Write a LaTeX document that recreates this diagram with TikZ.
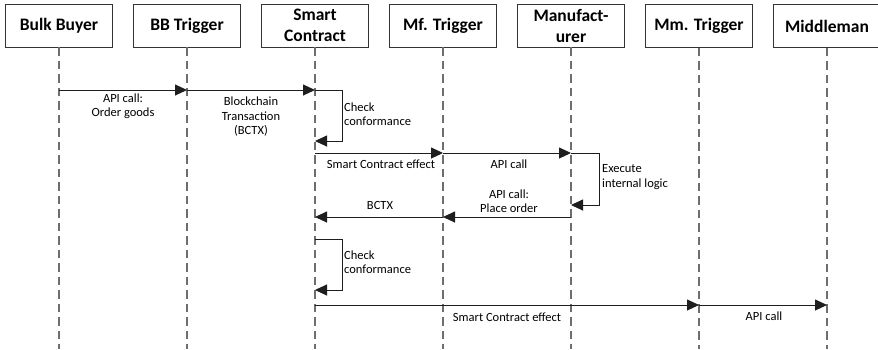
\documentclass[tikz,border=0pt]{standalone}
\usepackage{fontspec}
\setmainfont{Carlito}
\usetikzlibrary{arrows.meta}
\definecolor{linec}{HTML}{1E1E1E}
\definecolor{boxc}{HTML}{333333}
\definecolor{lifec}{HTML}{6E6E6E}
\tikzset{
  actor/.style={draw=boxc, line width=0.9pt, minimum width=107pt, minimum height=43pt, inner sep=0pt, align=center, font=\fontsize{17.5}{21}\selectfont\bfseries},
  lifeline/.style={draw=lifec, line width=1.3pt, dash pattern=on 8.5pt off 5pt},
  msg/.style={draw=linec, line width=0.9pt, -{Triangle[length=12pt,width=11pt]}},
  lbl/.style={inner sep=0pt, align=center, font=\fontsize{12.5}{14.5}\selectfont},
  lbll/.style={inner sep=0pt, align=left, anchor=west, font=\fontsize{12.5}{14.5}\selectfont},
}
\begin{document}
\begin{tikzpicture}[x=1pt,y=-1pt]
\useasboundingbox[fill=white] (0,0) rectangle (878,349);
% actors
\node[actor] (bb) at (59,25.5) {Bulk Buyer};
\node[actor] (bbt) at (187,25.5) {BB Trigger};
\node[actor] (sc) at (315,25.5) {Smart\\Contract};
\node[actor] (mft) at (443,25.5) {Mf. Trigger};
\node[actor] (mf) at (571,25.5) {Manufact-\\urer};
\node[actor] (mmt) at (699,26) {Mm. Trigger};
\node[actor] (mm) at (827,26) {Middleman};
% lifeline ends
\foreach \n/\x in {bb/59,bbt/187,sc/315,mft/443,mf/571,mmt/699,mm/827}{
  \coordinate (\n-end) at (\x,349);
  \draw[lifeline] (\n.south) -- (\n-end);
}
% message points
\coordinate (bb-1) at (59,90);
\coordinate (bbt-1) at (187,90);
\coordinate (sc-1) at (315,90);
\coordinate (sc-1r) at (342,90);
\coordinate (sc-1b) at (342,141);
\coordinate (sc-1e) at (315,141);
\coordinate (sc-2) at (315,153);
\coordinate (mft-2) at (443,153);
\coordinate (mf-2) at (571,153);
\coordinate (mf-2r) at (599,153);
\coordinate (mf-2b) at (599,205);
\coordinate (mf-2e) at (571,205);
\coordinate (mf-3) at (571,217);
\coordinate (mft-3) at (443,217);
\coordinate (sc-3) at (315,217);
\coordinate (sc-4) at (315,239);
\coordinate (sc-4r) at (342,239);
\coordinate (sc-4b) at (342,290);
\coordinate (sc-4e) at (315,290);
\coordinate (sc-5) at (315,305);
\coordinate (mmt-5) at (699,305);
\coordinate (mm-5) at (827,305);
% messages
\draw[msg] (bb-1) -- (bbt-1);
\draw[msg] (bbt-1) -- (sc-1);
\draw[msg] (sc-1) -- (sc-1r) -- (sc-1b) -- (sc-1e);
\draw[msg] (sc-2) -- (mft-2);
\draw[msg] (mft-2) -- (mf-2);
\draw[msg] (mf-2) -- (mf-2r) -- (mf-2b) -- (mf-2e);
\draw[msg] (mf-3) -- (mft-3);
\draw[msg] (mft-3) -- (sc-3);
\draw[msg] (sc-4) -- (sc-4r) -- (sc-4b) -- (sc-4e);
\draw[msg] (sc-5) -- (mmt-5);
\draw[msg] (mmt-5) -- (mm-5);
% labels
\node[lbl] (l1) at (123,106) {API call:\\Order goods};
\node[lbl] (l2) at (251,117) {Blockchain\\Transaction\\(BCTX)};
\node[lbll] (l3) at (344,114) {Check\\conformance};
\node[lbl] (l4) at (381,164) {Smart Contract effect};
\node[lbl] (l5) at (509,164) {API call};
\node[lbll] (l6) at (602,177) {Execute\\internal logic};
\node[lbl] (l7) at (509,201) {API call:\\Place order};
\node[lbl] (l8) at (380,205) {BCTX};
\node[lbll] (l9) at (344,262) {Check\\conformance};
\node[lbl] (l10) at (507,317) {Smart Contract effect};
\node[lbl] (l11) at (764,316) {API call};
\end{tikzpicture}
\end{document}
